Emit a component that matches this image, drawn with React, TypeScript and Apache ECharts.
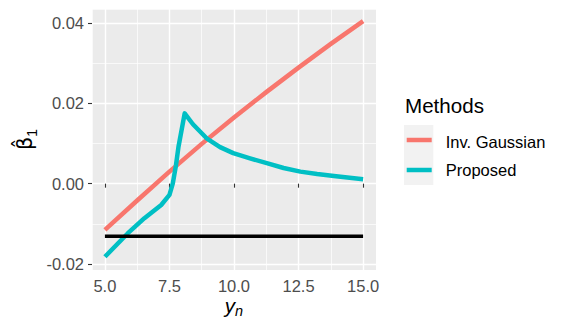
import React, { useEffect, useRef } from "react";
import * as echarts from "echarts";

const xTicks = [5, 7.5, 10, 12.5, 15];
const yTicks = [-0.02, 0, 0.02, 0.04];
const xMajorStep = 2.5;
const xMinorStep = 1.25;
const yMajorStep = 0.02;
const yMinorStep = 0.01;
const xRange = [4.5, 15.5];
const yRange = [-0.0215, 0.0435];

const invGaussX = [5, 6.25, 7.5, 8.75, 10, 11.25, 12.5, 13.75, 15];
const invGaussY = [-0.0115, -0.0042, 0.003, 0.0099, 0.0165, 0.0228, 0.0289, 0.0348, 0.0405];

const proposedX = [5, 5.88, 6.53, 7.18, 7.5, 7.63, 7.75, 7.85, 8.09, 8.41, 8.94, 9.46, 9.97, 10.62, 11.27, 11.92, 12.57, 13.22, 13.87, 15];
const proposedY = [-0.0182, -0.0124, -0.0086, -0.0053, -0.0028, 0.0001, 0.0045, 0.0092, 0.0175, 0.0148, 0.0113, 0.0091, 0.0076, 0.0063, 0.0051, 0.0039, 0.003, 0.0024, 0.0019, 0.0011];

const trueX = [5, 15];
const trueY = [-0.0131, -0.0131];

const seriesNames = ["Inv. Gaussian", "Proposed"];
const seriesColors = ["#F8766D", "#00BFC4"];
const legendTitle = "Methods";

const FONT = "'Liberation Sans', Arial, Helvetica, sans-serif";

export default function App() {
  const ref = useRef<HTMLDivElement>(null);
  useEffect(() => {
    if (!ref.current) return;
    const chart = echarts.init(ref.current, null, { renderer: "svg" });
    const zip = (xs: number[], ys: number[]) => xs.map((x, i) => [x, ys[i]]);

    const hiddenGridAxis = (range: number[], step: number, position: string) => ({
      type: "value",
      min: range[0],
      max: range[1],
      minInterval: step,
      maxInterval: step,
      position,
      axisLine: { show: false },
      axisTick: { show: false },
      axisLabel: { show: false },
      splitLine: { show: true, lineStyle: { color: "#FFFFFF", width: 0.7 } },
    });

    chart.setOption({
      animation: false,
      grid: {
        left: 92,
        right: 189,
        top: 9,
        bottom: 58,
        show: true,
        backgroundColor: "#EBEBEB",
        borderWidth: 0,
      },
      xAxis: [
        {
          type: "value",
          min: xRange[0],
          max: xRange[1],
          minInterval: xMajorStep,
          maxInterval: xMajorStep,
          position: "bottom",
          axisLine: { show: false },
          splitLine: { show: true, lineStyle: { color: "#FFFFFF", width: 1.4 } },
          axisTick: {
            show: true,
            customValues: xTicks,
            length: 4,
            lineStyle: { color: "#333333", width: 1.1 },
          },
          axisLabel: {
            customValues: xTicks,
            formatter: (v: number) => v.toFixed(1),
            color: "#4D4D4D",
            fontSize: 16.5,
            fontFamily: FONT,
            margin: 7,
          },
        },
        hiddenGridAxis(xRange, xMinorStep, "top"),
      ],
      yAxis: [
        {
          type: "value",
          min: yRange[0],
          max: yRange[1],
          minInterval: yMajorStep,
          maxInterval: yMajorStep,
          position: "left",
          axisLine: { show: false },
          splitLine: { show: true, lineStyle: { color: "#FFFFFF", width: 1.4 } },
          axisTick: {
            show: true,
            customValues: yTicks,
            length: 4,
            lineStyle: { color: "#333333", width: 1.1 },
          },
          axisLabel: {
            customValues: yTicks,
            formatter: (v: number) => v.toFixed(2),
            color: "#4D4D4D",
            fontSize: 16.5,
            fontFamily: FONT,
            margin: 8,
          },
        },
        hiddenGridAxis(yRange, yMinorStep, "right"),
      ],
      series: [
        {
          type: "line",
          name: seriesNames[0],
          data: zip(invGaussX, invGaussY),
          showSymbol: false,
          symbol: "none",
          z: 3,
          lineStyle: { color: seriesColors[0], width: 4.5, cap: "butt", join: "round" },
        },
        {
          type: "line",
          name: seriesNames[1],
          data: zip(proposedX, proposedY),
          showSymbol: false,
          symbol: "none",
          z: 4,
          lineStyle: { color: seriesColors[1], width: 4.5, cap: "butt", join: "round" },
        },
        {
          type: "line",
          name: "true",
          data: zip(trueX, trueY),
          showSymbol: false,
          symbol: "none",
          z: 5,
          lineStyle: { color: "#000000", width: 3.6, cap: "butt" },
        },
      ],
      graphic: [
        {
          type: "text",
          x: 25,
          y: 139.5,
          rotation: Math.PI / 2,
          style: {
            text: "{b|β\u0302}{s|1}",
            align: "center",
            verticalAlign: "middle",
            rich: {
              b: { fontSize: 20.6, fontFamily: "'DejaVu Sans', " + FONT, fill: "#000", lineHeight: 28 },
              s: { fontSize: 14, fontFamily: FONT, fill: "#000", verticalAlign: "bottom", lineHeight: 14 },
            },
          },
        },
        {
          type: "text",
          x: 234,
          y: 305,
          style: {
            text: "{i|y}{s|n}",
            align: "center",
            verticalAlign: "middle",
            rich: {
              i: { fontSize: 20.6, fontFamily: FONT, fontStyle: "italic", fill: "#000", lineHeight: 26 },
              s: { fontSize: 14.5, fontFamily: FONT, fontStyle: "italic", fill: "#000", verticalAlign: "bottom", lineHeight: 14 },
            },
          },
        },
        {
          type: "text",
          x: 405,
          y: 105,
          style: { text: legendTitle, fontSize: 20.6, fontFamily: FONT, fill: "#000", verticalAlign: "middle", align: "left" },
        },
        {
          type: "rect",
          shape: { x: 404, y: 125, width: 29.3, height: 60 },
          style: { fill: "#F2F2F2" },
        },
        {
          type: "line",
          shape: { x1: 406.7, y1: 140, x2: 431.7, y2: 140 },
          style: { stroke: seriesColors[0], lineWidth: 4.5 },
        },
        {
          type: "line",
          shape: { x1: 406.7, y1: 170, x2: 431.7, y2: 170 },
          style: { stroke: seriesColors[1], lineWidth: 4.5 },
        },
        {
          type: "text",
          x: 445.7,
          y: 141.5,
          style: { text: seriesNames[0], fontSize: 16.5, fontFamily: FONT, fill: "#000", verticalAlign: "middle", align: "left" },
        },
        {
          type: "text",
          x: 445.7,
          y: 170,
          style: { text: seriesNames[1], fontSize: 16.5, fontFamily: FONT, fill: "#000", verticalAlign: "middle", align: "left" },
        },
      ],
    });
    return () => chart.dispose();
  }, []);
  return (
    <div
      ref={ref}
      style={{ position: "absolute", left: 0, top: 0, width: 565, height: 328 }}
    />
  );
}
